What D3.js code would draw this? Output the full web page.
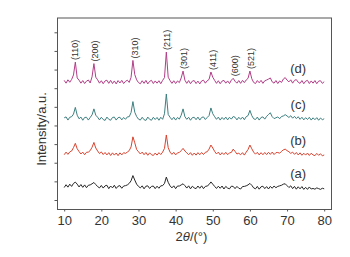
<!DOCTYPE html>
<html lang="en">
  <head>
    <meta charset="UTF-8" />
    <title>XRD patterns</title>
    <script src="https://d3js.org/d3.v7.min.js"></script>
    <style>
      body { margin: 0; background: #fff; }
      text { font-family: Arial, "Liberation Sans", sans-serif; fill: #333; }
    </style>
  </head>
  <body>
    <div id="chart"></div>
    <script>
      // 2theta grid, 0.5 degree steps from 10 to 80
      var twoTheta = [];
      for (var k = 0; k <= 140; k++) twoTheta.push(10 + k * 0.5);

      var seriesNames = ["(a)", "(b)", "(c)", "(d)"];
      var seriesColors = ["#262626", "#d8432f", "#3d7f80", "#b23e88"];
      // vertical shift of each pattern (a.u.)
      var offsets = [16.7, 34.5, 53.5, 73.3];

      // intensities above each pattern's own baseline
      var dataA = [
        0.0, 1.5, 0.2, 1.8, 0.6, 2.2, 2.9, 1.8, 0.3, 1.6,
        0.1, 1.4, -0.1, 1.2, 1.4, 2.0, 2.7, 1.6, 0.5, -0.2,
        1.1, -0.3, 0.9, 1.2, -0.6, 0.8, -0.2, 1.2, -0.5, 0.7,
        1.0, -0.4, 0.8, 1.0, 1.4, 2.2, 3.6, 6.4, 4.0, 1.8,
        0.6, -0.2, 0.9, -0.7, 0.7, 0.9, -0.5, 0.6, 0.8, -0.6,
        0.7, -0.4, 0.9, 1.0, 2.2, 5.6, 2.8, 0.9, -0.2, 0.9,
        -0.6, 0.8, 0.8, 1.4, 2.0, 1.0, -0.3, 0.9, -0.7, 0.7,
        -0.2, -0.6, 0.8, -0.4, 0.9, -0.6, 0.6, 0.8, 1.6, 3.0,
        1.8, 0.6, -0.5, 0.7, -0.4, 0.8, -0.8, 0.6, -0.3, -0.7,
        0.7, 0.6, -0.6, 0.6, -0.4, -0.8, 0.5, 0.6, 0.9, 1.4,
        2.2, 1.2, -0.2, -0.7, 0.6, -0.9, 0.4, 0.7, -0.6, 0.5,
        -0.8, 0.6, -0.4, 0.8, -0.1, 0.6, 0.9, 1.2, 1.8, 2.0,
        1.0, 0.0, 0.9, -0.6, 0.6, -0.9, 0.4, -0.7, 0.5, -1.0,
        0.1, -1.0, 0.3, -0.8, -0.5, -0.9, -0.2, -0.6, -1.0, -0.4,
        -0.7
      ];
      var dataB = [
        -0.2, 1.2, 0.0, 1.3, 1.8, 3.6, 5.9, 3.0, 1.5, 0.2,
        1.2, -0.2, 1.1, 1.2, 2.0, 3.8, 6.4, 3.4, 1.8, 0.4,
        1.3, -0.1, 1.0, -0.3, 0.9, -0.6, 0.8, -0.4, 0.7, -0.7,
        0.8, -0.3, 0.9, 0.5, 1.2, 2.0, 4.0, 9.4, 6.2, 2.6,
        1.4, 0.2, 1.2, -0.2, 1.0, -0.5, 0.8, -0.2, -0.6, 0.7,
        -0.4, 0.9, -0.1, 1.2, 3.2, 10.4, 3.6, 1.2, 0.0, 1.1,
        -0.3, 0.8, 1.0, 2.0, 3.2, 1.8, 0.8, -0.2, 0.9, -0.5,
        0.7, -0.4, 0.9, -0.2, 1.0, -0.1, 1.1, 1.4, 2.8, 5.0,
        3.4, 1.6, 0.2, 1.2, -0.3, 0.9, -0.1, 1.1, -0.2, 0.8,
        1.0, 2.8, 1.6, 0.2, 0.6, -0.2, 0.9, -0.4, 1.2, 2.6,
        5.0, 3.0, 1.2, 0.1, 1.1, -0.3, 0.9, -0.2, 1.0, -0.1,
        1.1, 0.0, 1.2, -0.1, 0.9, 1.0, 0.6, 1.6, 2.4, 2.8,
        2.0, 1.4, 0.5, 1.2, 0.0, 1.0, -0.3, 0.8, -0.5, 0.6,
        -0.4, 0.7, -0.6, 0.6, -0.3, -0.7, 0.5, -0.5, 0.3, -0.8,
        -0.3
      ];
      var dataC = [
        0.6, 1.1, -0.6, 0.9, 1.2, 2.6, 6.2, 2.0, 0.1, 1.0,
        -0.7, 0.8, 0.9, -0.6, 0.8, 2.2, 5.4, 2.0, 0.9, -0.5,
        0.9, -0.3, -0.8, 1.0, -0.2, -0.7, 0.8, 1.0, -0.6, 0.7,
        0.9, -0.5, 0.8, -0.2, 1.1, 1.2, 3.4, 9.3, 3.6, 1.3,
        -0.1, -0.6, 0.9, -0.4, -0.8, 1.0, -0.2, -0.7, 0.9, -0.3,
        0.8, -0.7, 0.9, -0.2, 2.8, 13.4, 2.4, 0.9, -0.4, 0.9,
        -0.6, 0.8, -0.1, 2.0, 5.4, 1.2, -0.2, 0.9, -0.7, 0.7,
        0.9, -0.4, 1.0, -0.6, 0.8, 1.1, -0.3, 0.8, 1.8, 5.9,
        2.8, 1.2, -0.2, 1.0, -0.6, 0.8, -0.3, 1.0, -0.5, 0.9,
        -0.1, 1.3, 0.9, -0.5, 0.9, -0.2, 1.0, -0.4, 1.2, 1.8,
        4.6, 1.8, 0.1, -0.3, 1.0, -0.6, 0.8, 1.1, -0.1, 1.4,
        2.4, 3.3, 1.2, 0.2, 0.6, 1.1, 0.1, 1.3, 1.6, 2.3,
        1.6, 0.8, 1.7, 0.4, 1.4, 0.2, 1.2, -0.2, 0.9, -0.5,
        0.7, -0.3, 0.9, -0.6, 0.6, -0.4, 0.7, -0.7, 0.5, -0.4,
        0.1
      ];
      var dataD = [
        0.9, -0.6, 1.2, -0.1, 1.4, 3.8, 10.7, 2.2, 1.0, -0.6,
        0.8, -0.8, 0.5, 1.1, -0.5, 2.8, 9.9, 2.6, 1.2, -0.6,
        0.7, -0.9, 0.6, 1.0, -0.7, 0.9, -0.8, 0.6, -1.0, 0.8,
        -0.5, 0.9, -0.8, 0.4, 1.0, -0.2, 2.5, 11.6, 4.0, 1.2,
        -0.3, -0.9, 0.7, -0.7, 0.9, -1.0, 0.4, 0.9, -0.8, 0.6,
        -0.6, 0.7, -0.9, 0.9, 2.4, 16.1, 2.6, 0.8, -0.7, 0.7,
        -0.8, 0.6, -0.3, 2.2, 5.9, 1.0, -0.7, 0.8, -0.9, 0.5,
        0.8, -0.8, 0.5, -1.0, 0.6, 1.0, -0.6, 0.7, 1.4, 5.4,
        2.6, 0.9, -0.7, 0.7, -0.9, 0.5, 0.9, -0.6, 0.6, -0.8,
        1.0, 2.0, 0.4, -0.6, 0.8, -0.7, 0.9, -0.3, 1.1, 2.0,
        5.9, 1.8, -0.2, -0.8, 0.8, -0.4, 0.9, -0.7, 0.7, 1.1,
        1.6, 2.2, 0.1, -0.6, 0.8, -0.8, 0.6, -0.2, 1.6, 2.4,
        1.0, 0.1, 1.2, -0.6, 0.9, 1.3, -0.1, -0.7, 0.8, -0.9,
        0.5, 0.9, -0.8, 0.6, -0.6, 0.8, -0.9, 0.5, 0.7, -0.7,
        0.2
      ];
      var seriesData = [dataA, dataB, dataC, dataD];

      // reflection labels above pattern (d)
      var hklLabels = ["(110)", "(200)", "(310)", "(211)", "(301)", "(411)", "(600)", "(521)"];
      var hklPos = [13.0, 18.2, 28.9, 37.6, 42.1, 50.0, 55.9, 60.2];

      var xTicks = [10, 20, 30, 40, 50, 60, 70, 80];
      var yTicks = [10, 20, 30, 40, 50, 60, 70, 80, 90, 100];

      var width = 350,
        height = 257;
      var frame = { left: 57.5, right: 331.5, top: 18, bottom: 209.5 };

      var svg = d3
        .select("#chart")
        .append("svg")
        .attr("width", width)
        .attr("height", height);

      var x = d3.scaleLinear().domain([10, 80]).range([64.2, 324.2]);
      var y = d3.scaleLinear().domain([10, 100]).range([200, 32.3]);

      // patterns
      var line = d3
        .line()
        .x(function (d) {
          return x(d[0]);
        })
        .y(function (d) {
          return y(d[1]);
        });

      seriesData.forEach(function (vals, s) {
        var pts = vals.map(function (v, i) {
          return [twoTheta[i], offsets[s] + v];
        });
        svg
          .append("path")
          .datum(pts)
          .attr("fill", "none")
          .attr("stroke", seriesColors[s])
          .attr("stroke-width", 1)
          .attr("stroke-linejoin", "round")
          .attr("d", line);

        svg
          .append("text")
          .attr("x", x(73))
          .attr("y", y(offsets[s]) - 14)
          .attr("dy", "0.35em")
          .attr("text-anchor", "middle")
          .style("font-size", "13px")
          .text(seriesNames[s]);
      });

      // hkl labels, placed just above the local maximum of (d)
      hklLabels.forEach(function (lab, j) {
        var top = -Infinity;
        twoTheta.forEach(function (t, i) {
          if (Math.abs(t - hklPos[j]) <= 1) top = Math.max(top, offsets[3] + dataD[i]);
        });
        svg
          .append("text")
          .attr("transform", "translate(" + x(hklPos[j]) + "," + (y(top) - 2) + ") rotate(-90)")
          .attr("dy", "0.35em")
          .attr("text-anchor", "start")
          .style("font-size", "9px")
          .text(lab);
      });

      // frame
      svg
        .append("rect")
        .attr("x", frame.left)
        .attr("y", frame.top)
        .attr("width", frame.right - frame.left)
        .attr("height", frame.bottom - frame.top)
        .attr("fill", "none")
        .attr("stroke", "#555")
        .attr("stroke-width", 1);

      var yAxis = svg
        .append("g")
        .attr("transform", "translate(" + frame.left + ",0)")
        .call(d3.axisLeft(y).tickValues(yTicks).tickFormat("").tickSize(3).tickSizeOuter(0));
      yAxis.select(".domain").remove();
      yAxis.selectAll("line").attr("stroke", "#555");

      var xAxis = svg
        .append("g")
        .attr("transform", "translate(0," + frame.bottom + ")")
        .call(d3.axisBottom(x).tickValues(xTicks).tickSize(2).tickPadding(4).tickSizeOuter(0));
      xAxis.select(".domain").remove();
      xAxis.selectAll("line").attr("stroke", "#555");
      xAxis
        .selectAll("text")
        .attr("fill", "#333")
        .style("font-size", "13px")
        .style("font-family", "Arial, 'Liberation Sans', sans-serif");

      // axis titles
      var xTitle = svg
        .append("text")
        .attr("x", 191.5)
        .attr("y", 241)
        .attr("text-anchor", "middle")
        .style("font-size", "13px");
      xTitle.append("tspan").text("2");
      xTitle.append("tspan").style("font-style", "italic").text("\u03b8");
      xTitle.append("tspan").text("/(\u00b0)");

      svg
        .append("text")
        .attr("transform", "translate(41.5,129) rotate(-90)")
        .attr("dy", "0.35em")
        .attr("text-anchor", "middle")
        .style("font-size", "13px")
        .text("Intensity/a.u.");
    </script>
  </body>
</html>
